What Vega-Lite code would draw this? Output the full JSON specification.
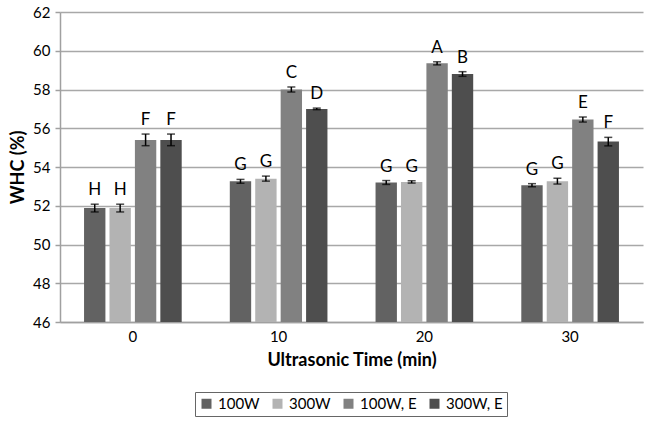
{
  "$schema": "https://vega.github.io/schema/vega-lite/v6.json",
  "width": 583,
  "height": 310,
  "autosize": {"type": "none"},
  "padding": {"left": 60, "top": 12, "right": 3, "bottom": 99},
  "background": "#ffffff",
  "config": {
    "font": "Lato",
    "view": {"stroke": null},
    "axis": {"labelFont": "Lato", "titleFont": "Lato", "labelColor": "#000000", "titleColor": "#000000"},
    "axisY": {
      "values": [46, 48, 50, 52, 54, 56, 58, 60, 62], "labelOverlap": false,
      "titleFontSize": 18, "titleFontWeight": "bold", "titlePadding": 5,
      "labelFontSize": 15, "labelPadding": 5, "tickSize": 5,
      "tickColor": "#a0a0a0", "tickWidth": 1.5,
      "grid": true, "gridColor": "#a8a8a8", "gridWidth": 1.5,
      "domainColor": "#a0a0a0", "domainWidth": 1.5
    }
  },
  "data": {
    "values": [
      {"time": "0", "series": "100W", "value": 51.88, "lo": 51.68, "hi": 52.08, "letter": "H"},
      {"time": "0", "series": "300W", "value": 51.88, "lo": 51.68, "hi": 52.08, "letter": "H"},
      {"time": "0", "series": "100W, E", "value": 55.4, "lo": 55.1, "hi": 55.7, "letter": "F"},
      {"time": "0", "series": "300W, E", "value": 55.4, "lo": 55.1, "hi": 55.7, "letter": "F"},
      {"time": "10", "series": "100W", "value": 53.26, "lo": 53.16, "hi": 53.36, "letter": "G"},
      {"time": "10", "series": "300W", "value": 53.4, "lo": 53.27, "hi": 53.53, "letter": "G"},
      {"time": "10", "series": "100W, E", "value": 58.0, "lo": 57.87, "hi": 58.13, "letter": "C"},
      {"time": "10", "series": "300W, E", "value": 57.0, "lo": 56.96, "hi": 57.04, "letter": "D"},
      {"time": "20", "series": "100W", "value": 53.2, "lo": 53.1, "hi": 53.3, "letter": "G"},
      {"time": "20", "series": "300W", "value": 53.23, "lo": 53.17, "hi": 53.29, "letter": "G"},
      {"time": "20", "series": "100W, E", "value": 59.35, "lo": 59.27, "hi": 59.43, "letter": "A"},
      {"time": "20", "series": "300W, E", "value": 58.8, "lo": 58.68, "hi": 58.92, "letter": "B"},
      {"time": "30", "series": "100W", "value": 53.06, "lo": 52.98, "hi": 53.14, "letter": "G"},
      {"time": "30", "series": "300W", "value": 53.27, "lo": 53.12, "hi": 53.42, "letter": "G"},
      {"time": "30", "series": "100W, E", "value": 56.45, "lo": 56.32, "hi": 56.58, "letter": "E"},
      {"time": "30", "series": "300W, E", "value": 55.31, "lo": 55.09, "hi": 55.53, "letter": "F"}
    ]
  },
  "encoding": {
    "x": {
      "field": "time", "type": "ordinal", "sort": ["0", "10", "20", "30"],
      "scale": {"paddingInner": 0.33, "paddingOuter": 0.165},
      "axis": {
        "title": "Ultrasonic Time (min)", "titleFontSize": 18, "titleFontWeight": "bold", "titlePadding": 7,
        "labelFontSize": 15, "labelAngle": 0, "labelPadding": 7, "ticks": false,
        "domainColor": "#a0a0a0", "domainWidth": 1.5
      }
    },
    "xOffset": {
      "field": "series", "type": "nominal", "sort": ["100W", "300W", "100W, E", "300W, E"],
      "scale": {"paddingInner": 0.16, "paddingOuter": 0}
    }
  },
  "layer": [
    {
      "mark": {"type": "bar", "clip": true},
      "encoding": {
        "y": {
          "field": "value", "type": "quantitative",
          "scale": {"domain": [46, 62], "zero": false, "nice": false},
          "axis": {"title": "WHC (%)"}
        },
        "y2": {"datum": 46},
        "color": {
          "field": "series", "type": "nominal",
          "sort": ["100W", "300W", "100W, E", "300W, E"],
          "scale": {"domain": ["100W", "300W", "100W, E", "300W, E"], "range": ["#626262", "#b3b3b3", "#818181", "#4e4e4e"]},
          "legend": {
            "title": null, "orient": "none", "legendX": 135, "legendY": 380,
            "direction": "horizontal", "columns": 4, "symbolType": "square", "symbolSize": 100,
            "symbolStrokeWidth": 0, "labelFontSize": 15, "labelFont": "Lato", "labelColor": "#000000",
            "columnPadding": 10, "strokeColor": "#666666", "padding": 4, "labelOffset": 4
          }
        }
      }
    },
    {
      "mark": {"type": "rule", "color": "#000000", "strokeWidth": 1.5},
      "encoding": {
        "y": {"field": "lo", "type": "quantitative", "axis": {"title": "WHC (%)"}},
        "y2": {"field": "hi"}
      }
    },
    {
      "mark": {"type": "tick", "color": "#000000", "size": 8, "thickness": 1.5},
      "encoding": {"y": {"field": "lo", "type": "quantitative", "axis": {"title": "WHC (%)"}}}
    },
    {
      "mark": {"type": "tick", "color": "#000000", "size": 8, "thickness": 1.5},
      "encoding": {"y": {"field": "hi", "type": "quantitative", "axis": {"title": "WHC (%)"}}}
    },
    {
      "mark": {"type": "text", "fontSize": 17, "color": "#000000", "baseline": "bottom", "dy": -5, "font": "Lato"},
      "encoding": {
        "y": {"field": "hi", "type": "quantitative", "axis": {"title": "WHC (%)"}},
        "text": {"field": "letter"}
      }
    }
  ]
}
